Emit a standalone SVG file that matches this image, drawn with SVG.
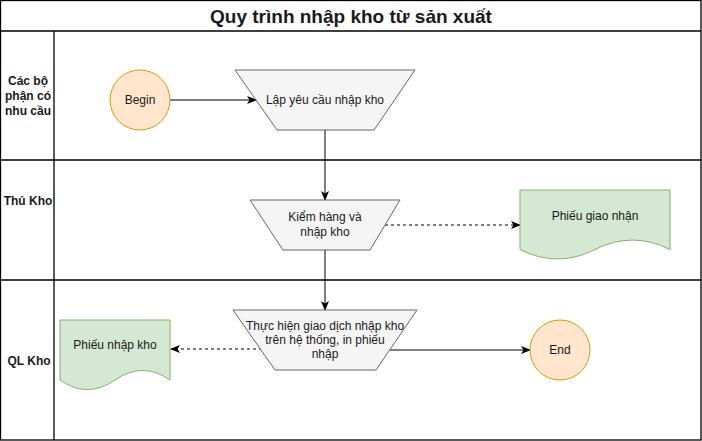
<svg xmlns="http://www.w3.org/2000/svg" width="702" height="441" viewBox="0 0 702 441">
<style>
text{font-family:"Liberation Sans",Arial,sans-serif;font-size:12px;fill:#1a1a1a;text-anchor:middle}
.lane{font-weight:bold}
.title{font-size:19px;font-weight:bold}
.frame{fill:none;stroke:#000;stroke-width:1.3}
.trap{fill:#f5f5f5;stroke:#666666}
.doc{fill:#d5e8d4;stroke:#82b366}
.term{fill:#ffe6cc;stroke:#d79b00}
.c{fill:none;stroke:#000;stroke-width:1}
.d{stroke-dasharray:3 3}
</style>
<defs>
<marker id="ah" viewBox="0 0 10 10" refX="9" refY="5" markerWidth="10" markerHeight="10" markerUnits="userSpaceOnUse" orient="auto">
<path d="M0,1 L10,5 L0,9 L2.5,5 Z" fill="#000"/>
</marker>
</defs>
<rect width="702" height="441" fill="#fff"/>
<g id="pool">
<rect class="frame" x="0.5" y="0.5" width="700.5" height="439.5"/>
<line class="frame" x1="0.5" y1="31" x2="701" y2="31"/>
<line class="frame" x1="54" y1="31" x2="54" y2="440"/>
<line class="frame" x1="0.5" y1="160" x2="701" y2="160"/>
<line class="frame" x1="0.5" y1="280" x2="701" y2="280"/>
<text class="title" x="351" y="23">Quy trình nhập kho từ sản xuất</text>
<text class="lane" x="28" y="85">Các bộ</text>
<text class="lane" x="28" y="100">phận có</text>
<text class="lane" x="28" y="115">nhu cầu</text>
<text class="lane" x="28" y="205">Thủ Kho</text>
<text class="lane" x="29" y="365">QL Kho</text>
</g>
<g id="connectors">
<line class="c" x1="170" y1="100" x2="256" y2="100" marker-end="url(#ah)"/>
<line class="c" x1="325" y1="130" x2="325" y2="200" marker-end="url(#ah)"/>
<line class="c d" x1="385" y1="225" x2="520" y2="225" marker-end="url(#ah)"/>
<line class="c" x1="325" y1="250" x2="325" y2="310" marker-end="url(#ah)"/>
<line class="c d" x1="262" y1="349" x2="171" y2="349" marker-end="url(#ah)"/>
<line class="c" x1="390" y1="350" x2="530" y2="350" marker-end="url(#ah)"/>
</g>
<g id="begin">
<circle class="term" cx="140" cy="100" r="30"/>
<text x="140" y="104">Begin</text>
</g>
<g id="lap-yeu-cau">
<polygon class="trap" points="235,70 415,70 374,130 277,130"/>
<text x="325" y="104">Lập yêu cầu nhập kho</text>
</g>
<g id="kiem-hang">
<polygon class="trap" points="250,200 400,200 370,250 283,250"/>
<text x="325" y="221">Kiểm hàng và</text>
<text x="325" y="236">nhập kho</text>
</g>
<g id="phieu-giao-nhan">
<path class="doc" d="M520,190 L670,190 L670,249.5 Q632.5,230.6 595,249.5 Q557.5,268.4 520,249.5 Z"/>
<text x="595" y="220">Phiếu giao nhận</text>
</g>
<g id="thuc-hien">
<polygon class="trap" points="233,310 417,310 376,370 275,370"/>
<text x="325" y="330">Thực hiện giao dịch nhập kho</text>
<text x="325" y="344">trên hệ thống, in phiếu</text>
<text x="325" y="358">nhập</text>
</g>
<g id="phieu-nhap-kho">
<path class="doc" d="M60,320 L170,320 L170,380 Q142.5,360.9 115,380 Q87.5,399.1 60,380 Z"/>
<text x="115" y="349">Phiếu nhập kho</text>
</g>
<g id="end">
<circle class="term" cx="560" cy="350" r="30"/>
<text x="560" y="354">End</text>
</g>
</svg>
